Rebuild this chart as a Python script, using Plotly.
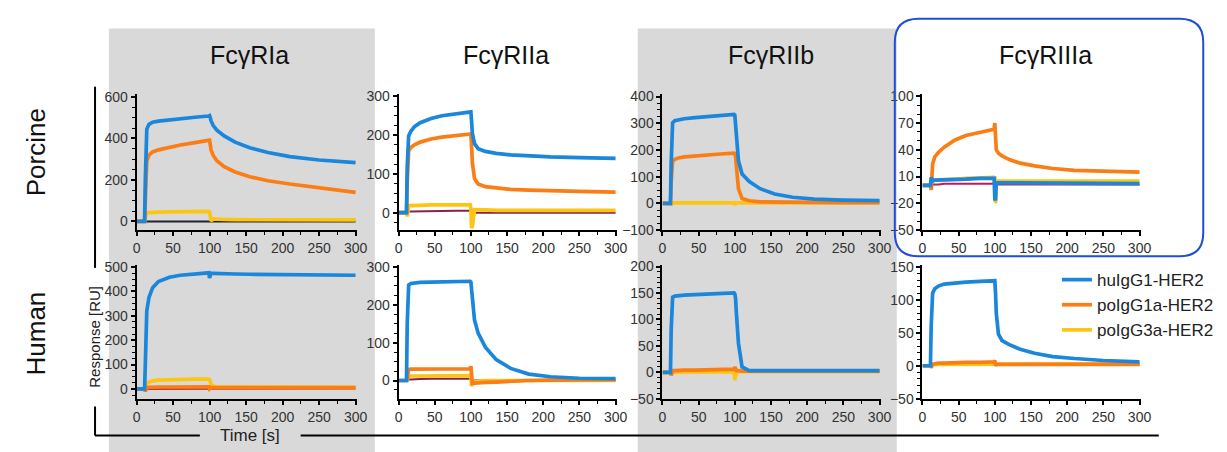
import plotly.graph_objects as go

# ---------------- data ----------------
T = [0, 11, 12, 13, 14, 17, 22, 30, 45, 60, 80, 99, 100, 101, 102, 105, 110, 120, 135, 155, 180, 210, 250, 300]

SERIES = ["huIgG1-HER2", "poIgG1a-HER2", "poIgG3a-HER2"]
TITLES = ["FcγRIa", "FcγRIIa", "FcγRIIb", "FcγRIIIa"]
ROWS = ["Porcine", "Human"]

# Porcine FcγRIa
por_RIa_hu = [0, 0, 200, 400, 445, 468, 478, 483, 490, 495, 502, 508, 510, 500, 485, 462, 440, 412, 382, 355, 332, 312, 296, 283]
por_RIa_po1 = [0, 0, 100, 250, 290, 320, 335, 345, 358, 368, 380, 390, 392, 370, 345, 318, 292, 264, 238, 215, 196, 180, 162, 140]
por_RIa_po3 = [0, 0, 20, 38, 40, 42, 44, 45, 46, 47, 48, 48, 45, 10, 2, 12, 10, 9, 8, 8, 8, 7, 7, 7]
por_RIa_ctl = [0, 0, 3, 3, 3, 3, 3, 3, 3, 3, 3, 3, 3, 0, 0, 0, 0, 0, 0, 0, 0, 0, 0, 0]

# Porcine FcγRIIa
por_RIIa_hu = [0, 0, 120, 190, 198, 210, 222, 232, 243, 250, 256, 260, 260, 235, 205, 178, 165, 158, 153, 149, 146, 144, 142, 140]
por_RIIa_po1 = [0, 0, 80, 150, 160, 168, 175, 182, 190, 195, 200, 205, 203, 170, 130, 88, 74, 67, 63, 60, 58, 56, 55, 53]
por_RIIa_po3 = [0, 0, -10, 15, 18, 18, 19, 19, 20, 20, 20, 20, 10, -40, -35, 8, 7, 7, 6, 6, 6, 6, 6, 6]
por_RIIa_ctl = [0, 0, 0, 2, 3, 3, 3, 4, 4, 4, 5, 5, 5, 0, 0, 0, 0, 0, 0, 0, 0, 0, 0, 0]

# Porcine FcγRIIb
por_RIIb_hu = [0, 0, 150, 295, 302, 310, 314, 317, 321, 325, 329, 333, 330, 300, 250, 160, 110, 82, 55, 35, 23, 16, 12, 10]
por_RIIb_po1 = [0, 0, 80, 150, 158, 165, 170, 174, 178, 181, 185, 188, 186, 175, 150, 55, 18, 10, 6, 5, 4, 4, 3, 3]
por_RIIb_po3 = [0, 0, -3, 2, 2, 2, 2, 2, 2, 2, 2, 2, -5, 0, 2, 2, 2, 2, 2, 2, 2, 2, 2, 2]

# Porcine FcγRIIIa
por_RIIIa_hu = [0, 0, 9, 5, 5, 6, 6, 7, 7, 7, 8, 8, -15, -15, 3, 3, 3, 3, 3, 3, 2, 2, 2, 2]
por_RIIIa_po1 = [0, 0, -5, 15, 24, 32, 37, 43, 51, 56, 60, 63, 70, 45, 40, 36, 33, 29, 25, 22, 19, 17, 16, 15]
por_RIIIa_po3 = [0, 0, 3, 5, 5, 6, 6, 7, 7, 8, 8, 9, 10, -20, 5, 5, 5, 5, 5, 5, 5, 5, 5, 5]
por_RIIIa_ctl = [0, 0, -2, 0, 1, 1, 1, 2, 2, 2, 2, 2, 2, 1, 1, 1, 1, 1, 1, 1, 1, 1, 1, 1]

# Human FcγRIa
hum_RIa_hu = [0, 0, 100, 250, 320, 375, 415, 440, 458, 466, 472, 476, 455, 474, 474, 474, 473, 472, 471, 470, 469, 468, 467, 466]
hum_RIa_po1 = [0, 0, -10, 5, 6, 7, 8, 8, 8, 9, 9, 9, 0, 5, 5, 5, 5, 5, 5, 5, 5, 5, 5, 5]
hum_RIa_po3 = [0, 0, 0, 15, 22, 28, 33, 36, 38, 39, 40, 40, 38, 30, 20, 12, 9, 8, 8, 7, 7, 7, 7, 7]
hum_RIa_ctl = [0, 0, 2, 3, 3, 3, 3, 3, 3, 3, 3, 3, 3, 2, 2, 2, 2, 2, 2, 2, 2, 2, 2, 2]

# Human FcγRIIa
hum_RIIa_hu = [0, 0, 150, 240, 252, 256, 258, 259, 260, 261, 262, 262, 260, 240, 205, 160, 125, 88, 55, 32, 17, 10, 6, 5]
hum_RIIa_po1 = [0, 0, 5, 28, 29, 30, 30, 30, 30, 30, 31, 31, 38, -5, -8, -7, -6, -5, -4, -2, 0, 1, 2, 2]
hum_RIIa_po3 = [0, 0, 0, 10, 11, 12, 12, 12, 13, 13, 13, 13, 10, -15, -5, -3, -2, 0, 0, 0, 0, 0, 0, 0]
hum_RIIa_ctl = [0, 0, 0, 2, 3, 3, 4, 4, 5, 5, 5, 5, 5, 0, 0, 0, 0, 0, 0, 0, 0, 0, 0, 0]

# Human FcγRIIb
hum_RIIb_hu = [0, 0, 80, 138, 142, 144, 145, 146, 147, 148, 149, 150, 148, 140, 115, 55, 10, 3, 3, 3, 3, 3, 3, 3]
hum_RIIb_po1 = [0, 0, -6, 2, 3, 3, 4, 4, 4, 5, 5, 6, 10, 4, 3, 3, 2, 2, 2, 2, 2, 2, 2, 2]
hum_RIIb_po3 = [0, 0, 0, 1, 1, 1, 1, 1, 1, 1, 1, 1, -15, -5, 1, 1, 1, 1, 1, 1, 1, 1, 1, 1]

# Human FcγRIIIa
hum_RIIIa_hu = [0, 0, 60, 100, 110, 117, 121, 124, 126, 127, 128, 129, 129, 110, 80, 48, 38, 32, 25, 19, 14, 11, 8, 6]
hum_RIIIa_po1 = [0, 0, -3, 1, 2, 3, 4, 4, 5, 5, 5, 6, 8, 0, 2, 2, 2, 2, 2, 2, 2, 2, 2, 2]
hum_RIIIa_po3 = [0, 0, 0, 2, 2, 3, 3, 3, 3, 3, 3, 3, 3, 3, 3, 3, 3, 3, 3, 3, 3, 3, 3, 3]
hum_RIIIa_ctl = [0, 0, 0, 0, 1, 1, 2, 2, 2, 2, 2, 2, 2, 1, 1, 1, 1, 1, 1, 1, 1, 1, 1, 1]

# ---------------- style / layout ----------------
W, H = 1227, 452
BLUE, ORANGE, YELLOW = "#1a86dc", "#fa7d15", "#fcc511"
FONT = "Liberation Sans, Arial, sans-serif"


def pxx(x):
    return x / W


def pyy(y):
    return 1 - y / H


COLS_X = [(126, 349), (391, 612), (658, 879), (921, 1142)]
ROWS_Y = [(83, 223), (259, 397)]

panels = [
    # row, col, yrange, tick0, dtick, minor, hu, po1, po3, ctl, ctlcolor
    (0, 0, [-42, 612], 0, 200, 50, por_RIa_hu, por_RIa_po1, por_RIa_po3, por_RIa_ctl, "#222233"),
    (0, 1, [-45, 305], 0, 100, 25, por_RIIa_hu, por_RIIa_po1, por_RIIa_po3, por_RIIa_ctl, "#8a1f55"),
    (0, 2, [-100, 408], -100, 100, 25, por_RIIb_hu, por_RIIb_po1, por_RIIb_po3, None, None),
    (0, 3, [-50, 102], -50, 30, 10, por_RIIIa_hu, por_RIIIa_po1, por_RIIIa_po3, por_RIIIa_ctl, "#c2185b"),
    (1, 0, [-40, 508], 0, 100, 25, hum_RIa_hu, hum_RIa_po1, hum_RIa_po3, hum_RIa_ctl, "#c0392b"),
    (1, 1, [-48, 305], 0, 100, 25, hum_RIIa_hu, hum_RIIa_po1, hum_RIIa_po3, hum_RIIa_ctl, "#8a1f55"),
    (1, 2, [-50, 203], -50, 50, 10, hum_RIIb_hu, hum_RIIb_po1, hum_RIIb_po3, None, None),
    (1, 3, [-50, 153], -50, 50, 10, hum_RIIIa_hu, hum_RIIIa_po1, hum_RIIIa_po3, hum_RIIIa_ctl, "#d0406a"),
]

fig = go.Figure()
layout = {}
for i, (r, c, yr, t0, dt, mn, hu, po1, po3, ctl, ctlc) in enumerate(panels):
    n = i + 1
    xa = "x" if n == 1 else f"x{n}"
    ya = "y" if n == 1 else f"y{n}"
    if ctl is not None:
        fig.add_trace(go.Scatter(x=T, y=ctl, mode="lines", xaxis=xa, yaxis=ya,
                                 line=dict(color=ctlc, width=2), showlegend=False, hoverinfo="skip"))
    for vals, col, name in [(po3, YELLOW, SERIES[2]), (po1, ORANGE, SERIES[1]), (hu, BLUE, SERIES[0])]:
        fig.add_trace(go.Scatter(x=T, y=vals, mode="lines", xaxis=xa, yaxis=ya, name=name,
                                 legendgroup=name, legendrank={SERIES[0]: 1, SERIES[1]: 2, SERIES[2]: 3}[name],
                                 line=dict(color=col, width=3.7), showlegend=(n == 1)))
    x0, x1 = COLS_X[c]
    y0, y1 = ROWS_Y[r]
    layout["xaxis" if n == 1 else f"xaxis{n}"] = dict(
        domain=[pxx(x0), pxx(x1)], anchor=ya, range=[0, 302], tick0=0, dtick=50,
        showline=True, linecolor="black", linewidth=2, ticks="outside", ticklen=4, tickwidth=1.5,
        tickcolor="black", showgrid=False, zeroline=False,
        minor=dict(dtick=25, tick0=0, ticks="outside", ticklen=3, tickcolor="black", tickwidth=1),
        tickfont=dict(family=FONT, size=14, color="#333333"))
    layout["yaxis" if n == 1 else f"yaxis{n}"] = dict(
        domain=[pyy(y1), pyy(y0)], anchor=xa, range=yr, tick0=t0, dtick=dt,
        showline=True, linecolor="black", linewidth=2, ticks="outside", ticklen=4, tickwidth=1.5,
        tickcolor="black", showgrid=False, zeroline=False,
        minor=dict(dtick=mn, tick0=t0, ticks="outside", ticklen=3, tickcolor="black", tickwidth=1),
        tickfont=dict(family=FONT, size=14, color="#333333"))

shapes = []
GRAY = "#d9d9d9"
for gx0, gx1 in [(98, 367), (633, 895)]:
    shapes.append(dict(type="rect", xref="paper", yref="paper", x0=pxx(gx0), x1=pxx(gx1),
                       y0=0, y1=pyy(15), fillcolor=GRAY, line=dict(width=0), layer="below"))

# rounded highlight box
bx0, by0, bx1, by1, rr = 893, 5, 1205, 250, 24


def P(x, y):
    return f"{pxx(x):.5f},{pyy(y):.5f}"


path = (f"M {P(bx0+rr, by0)} L {P(bx1-rr, by0)} Q {P(bx1, by0)} {P(bx1, by0+rr)} "
        f"L {P(bx1, by1-rr)} Q {P(bx1, by1)} {P(bx1-rr, by1)} "
        f"L {P(bx0+rr, by1)} Q {P(bx0, by1)} {P(bx0, by1-rr)} "
        f"L {P(bx0, by0+rr)} Q {P(bx0, by0)} {P(bx0+rr, by0)} Z")
shapes.append(dict(type="path", xref="paper", yref="paper", path=path,
                   line=dict(color="#1d4ed8", width=2), fillcolor="rgba(0,0,0,0)", layer="above"))

# bracket lines (axis-title frame)
LX, LY = 84, 435
for (a, b, c_, d) in [(LX, 75, LX, 262), (LX, 405, LX, LY), (LX, LY, 190, LY), (292, LY, 1160, LY)]:
    shapes.append(dict(type="line", xref="paper", yref="paper", x0=pxx(a), y0=pyy(b), x1=pxx(c_), y1=pyy(d),
                       line=dict(color="black", width=2)))

annotations = []
for txt, cx in zip(TITLES, [240, 500, 768, 1045]):
    annotations.append(dict(text=txt, x=pxx(cx), y=pyy(42), xref="paper", yref="paper", showarrow=False,
                            xanchor="center", yanchor="middle", font=dict(family=FONT, size=25, color="#111111")))
for txt, cy in zip(ROWS, [143, 330]):
    annotations.append(dict(text=txt, x=pxx(24), y=pyy(cy), xref="paper", yref="paper", showarrow=False,
                            textangle=-90, xanchor="center", yanchor="middle",
                            font=dict(family=FONT, size=26, color="#111111")))
annotations.append(dict(text="Response [RU]", x=pxx(84), y=pyy(333), xref="paper", yref="paper",
                        showarrow=False, textangle=-90, xanchor="center", yanchor="middle",
                        font=dict(family=FONT, size=15, color="#222222")))
annotations.append(dict(text="Time [s]", x=pxx(241), y=pyy(435), xref="paper", yref="paper",
                        showarrow=False, xanchor="center", yanchor="middle",
                        font=dict(family=FONT, size=17, color="#222222")))

fig.update_layout(
    width=W, height=H, margin=dict(l=0, r=0, t=0, b=0),
    paper_bgcolor="white", plot_bgcolor="rgba(0,0,0,0)",
    shapes=shapes, annotations=annotations,
    legend=dict(x=pxx(1057), y=pyy(256), xanchor="left", yanchor="top", bgcolor="rgba(0,0,0,0)",
                font=dict(family=FONT, size=17, color="#222222"), tracegroupgap=0, itemwidth=30),
    **layout,
)

fig.write_html("out.html")
